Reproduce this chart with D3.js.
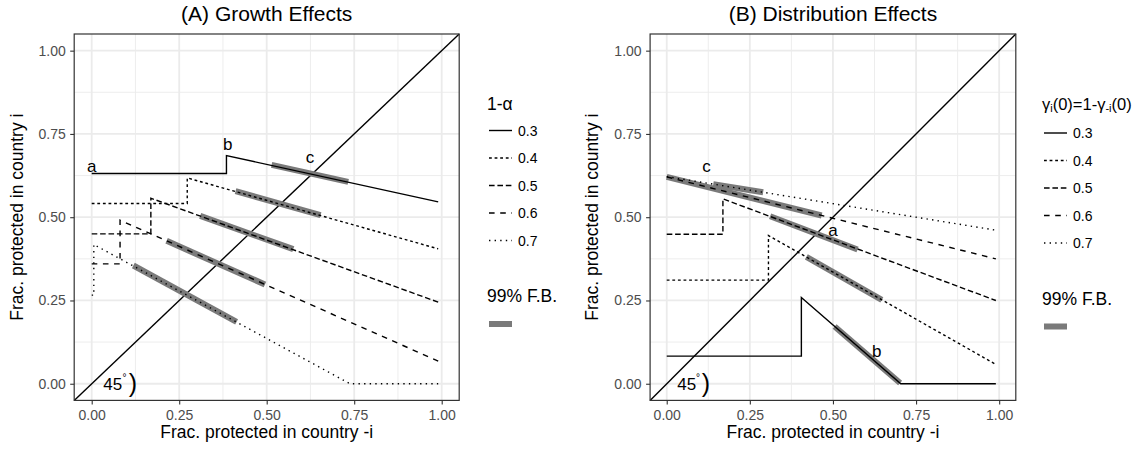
<!DOCTYPE html>
<html>
<head>
<meta charset="utf-8">
<script src="https://cdn.jsdelivr.net/npm/d3@7"></script>
<style>
body { margin: 0; background: #fff; }
text { font-family: "Liberation Sans", Arial, Helvetica, sans-serif; }
</style>
</head>
<body>
<div id="chart"></div>
<script>
// levels shared by both panels
var levels = ["0.3", "0.4", "0.5", "0.6", "0.7"];
var majorTicks = [0, 0.25, 0.5, 0.75, 1];
var minorTicks = [0.125, 0.375, 0.625, 0.875];

// (A) growth effects, one x/y list per level of 1-alpha
var growthX = [
	[0, 0.385, 0.385, 0.99],
	[0, 0.273, 0.273, 0.99],
	[0, 0.169, 0.169, 0.99],
	[0, 0.081, 0.081, 0.99],
	[0, 0.006, 0.006, 0.738, 0.99]
];
var growthY = [
	[0.631, 0.631, 0.685, 0.546],
	[0.541, 0.541, 0.618, 0.405],
	[0.45, 0.45, 0.557, 0.245],
	[0.36, 0.36, 0.491, 0.068],
	[0.266, 0.266, 0.418, 0, 0]
];
// 99% F.B. segments (start, end)
var growthBandX = [[0.514, 0.733], [0.411, 0.654], [0.31, 0.576], [0.214, 0.495], [0.119, 0.414]];
var growthBandY = [[0.657, 0.606], [0.578, 0.506], [0.504, 0.404], [0.429, 0.298], [0.355, 0.186]];
var growthLabels = ["a", "b", "c"];
var growthLabelX = [0, 0.389, 0.624];
var growthLabelY = [0.651, 0.717, 0.68];

// (B) distribution effects
var distX = [
	[0, 0.405, 0.405, 0.704, 0.99],
	[0, 0.306, 0.306, 0.99],
	[0, 0.169, 0.169, 0.99],
	[0, 0.99],
	[0, 0.99]
];
var distY = [
	[0.083, 0.083, 0.259, 0, 0],
	[0.311, 0.311, 0.445, 0.058],
	[0.449, 0.449, 0.555, 0.25],
	[0.621, 0.375],
	[0.622, 0.461]
];
var distBandX = [[0.505, 0.702], [0.42, 0.647], [0.311, 0.574], [0, 0.466], [0.14, 0.29]];
var distBandY = [[0.172, 0.002], [0.381, 0.252], [0.503, 0.403], [0.621, 0.505], [0.599, 0.575]];
var distLabels = ["c", "a", "b"];
var distLabelX = [0.12, 0.5, 0.632];
var distLabelY = [0.651, 0.461, 0.096];

var W = 1141, H = 449;
var u = 1.4; // dash unit
var dashes = ["none", [2*u, 2*u], [4*u, 2*u], [4*u, 4*u], [1*u, 3*u]];
var bandColor = "#7a7a7a";

var svg = d3.select("#chart").append("svg")
	.attr("width", W)
	.attr("height", H);

svg.append("rect").attr("width", W).attr("height", H).attr("fill", "white");

function panel(opt) {
	var x = d3.scaleLinear().domain([-0.05, 1.05]).range([opt.left, opt.right]);
	var y = d3.scaleLinear().domain([-0.05, 1.05]).range([400.4, 34]);
	var g = svg.append("g");

	// grid
	g.selectAll(".minx").data(minorTicks).enter().append("line")
		.attr("x1", function(d){ return x(d); }).attr("x2", function(d){ return x(d); })
		.attr("y1", y(-0.05)).attr("y2", y(1.05))
		.attr("stroke", "#ebebeb").attr("stroke-width", 0.9);
	g.selectAll(".miny").data(minorTicks).enter().append("line")
		.attr("y1", function(d){ return y(d); }).attr("y2", function(d){ return y(d); })
		.attr("x1", x(-0.05)).attr("x2", x(1.05))
		.attr("stroke", "#ebebeb").attr("stroke-width", 0.9);
	g.selectAll(".majx").data(majorTicks).enter().append("line")
		.attr("x1", function(d){ return x(d); }).attr("x2", function(d){ return x(d); })
		.attr("y1", y(-0.05)).attr("y2", y(1.05))
		.attr("stroke", "#ebebeb").attr("stroke-width", 1.8);
	g.selectAll(".majy").data(majorTicks).enter().append("line")
		.attr("y1", function(d){ return y(d); }).attr("y2", function(d){ return y(d); })
		.attr("x1", x(-0.05)).attr("x2", x(1.05))
		.attr("stroke", "#ebebeb").attr("stroke-width", 1.8);

	var line = d3.line().x(function(d){ return x(d[0]); }).y(function(d){ return y(d[1]); });

	// 45 degree line
	g.append("path").datum([[-0.05, -0.05], [1.05, 1.05]])
		.attr("d", line).attr("fill", "none").attr("stroke", "black").attr("stroke-width", 1.4);

	// bands
	opt.bandX.forEach(function(bx, i){
		g.append("path").datum([[bx[0], opt.bandY[i][0]], [bx[1], opt.bandY[i][1]]])
			.attr("d", line).attr("fill", "none")
			.attr("stroke", bandColor).attr("stroke-width", 6);
	});

	// curves
	opt.xs.forEach(function(xs, i){
		var pts = xs.map(function(v, j){ return [v, opt.ys[i][j]]; });
		g.append("path").datum(pts)
			.attr("d", line).attr("fill", "none")
			.attr("stroke", "black").attr("stroke-width", 1.4)
			.attr("stroke-dasharray", dashes[i] === "none" ? null : dashes[i].join(","));
	});

	// point labels
	opt.labels.forEach(function(t, i){
		g.append("text").attr("x", x(opt.labelX[i])).attr("y", y(opt.labelY[i]))
			.attr("text-anchor", "middle").attr("dominant-baseline", "central")
			.attr("font-size", 17).text(t);
	});

	// 45 degree marker
	g.append("text").attr("x", x(0.06)).attr("y", 390).attr("text-anchor", "middle")
		.attr("font-size", 17).text("45");
	g.append("text").attr("x", x(0.094)).attr("y", 381).attr("text-anchor", "middle")
		.attr("font-size", 10).text("\u00B0");
	g.append("text").attr("x", x(0.118)).attr("y", 392).attr("text-anchor", "middle")
		.attr("font-size", 25).text(")");

	// border
	g.append("rect").attr("x", x(-0.05)).attr("y", y(1.05))
		.attr("width", x(1.05) - x(-0.05)).attr("height", y(-0.05) - y(1.05))
		.attr("fill", "none").attr("stroke", "#333").attr("stroke-width", 1.2);

	// axes
	var fmt = d3.format(".2f");
	var ax = g.append("g").attr("transform", "translate(0," + y(-0.05) + ")")
		.call(d3.axisBottom(x).tickValues(majorTicks).tickFormat(fmt).tickSize(4).tickPadding(5.5));
	var ay = g.append("g").attr("transform", "translate(" + x(-0.05) + ",0)")
		.call(d3.axisLeft(y).tickValues(majorTicks).tickFormat(fmt).tickSize(4).tickPadding(4.5));
	[ax, ay].forEach(function(a){
		a.select(".domain").remove();
		a.selectAll("line").attr("stroke", "#333").attr("stroke-width", 1.1);
		a.selectAll("text").attr("fill", "#4d4d4d").attr("font-size", 14)
			.attr("font-family", "Liberation Sans, Arial, sans-serif");
	});

	// titles
	var cx = (x(-0.05) + x(1.05)) / 2;
	g.append("text").attr("x", cx).attr("y", 21).attr("text-anchor", "middle")
		.attr("font-size", 21).text(opt.title);
	g.append("text").attr("x", cx).attr("y", 438).attr("text-anchor", "middle")
		.attr("font-size", 17.5).text("Frac. protected in country -i");
	g.append("text").attr("transform", "translate(" + opt.ytitleX + "," + (y(-0.05) + y(1.05)) / 2 + ") rotate(-90)")
		.attr("text-anchor", "middle").attr("font-size", 17.5).text("Frac. protected in country i");

	// legend
	var lg = g.append("g");
	var t = lg.append("text").attr("x", opt.legX).attr("y", 104).attr("dominant-baseline", "central")
		.attr("font-size", 17.5);
	opt.legTitle(t);
	levels.forEach(function(lv, i){
		var ly = opt.legY0 + i * 27.5;
		lg.append("line").attr("x1", opt.legX + 2).attr("x2", opt.legX + 25)
			.attr("y1", ly).attr("y2", ly).attr("stroke", "black").attr("stroke-width", 1.4)
			.attr("stroke-dasharray", dashes[i] === "none" ? null : dashes[i].join(","));
		lg.append("text").attr("x", opt.legX + 31).attr("y", ly).attr("dominant-baseline", "central")
			.attr("font-size", 14).text(lv);
	});
	lg.append("text").attr("x", opt.legX).attr("y", opt.legY0 + 165.5).attr("dominant-baseline", "central")
		.attr("font-size", 17.5).text("99% F.B.");
	lg.append("rect").attr("x", opt.legX + 2).attr("y", opt.legY0 + 190.5)
		.attr("width", 23).attr("height", 6).attr("fill", bandColor);
}

panel({
	left: 74.2, right: 459.2, title: "(A) Growth Effects", ytitleX: 22.5,
	xs: growthX, ys: growthY, bandX: growthBandX, bandY: growthBandY,
	labels: growthLabels, labelX: growthLabelX, labelY: growthLabelY,
	legX: 487, legY0: 130.5,
	legTitle: function(t){ t.text("1-\u03B1"); }
});

panel({
	left: 650.1, right: 1015.8, title: "(B) Distribution Effects", ytitleX: 598,
	xs: distX, ys: distY, bandX: distBandX, bandY: distBandY,
	labels: distLabels, labelX: distLabelX, labelY: distLabelY,
	legX: 1042, legY0: 133,
	legTitle: function(t){
		t.attr("font-size", 16.5);
		t.append("tspan").text("\u03B3");
		t.append("tspan").attr("font-size", 11).attr("dy", 4).text("i");
		t.append("tspan").attr("dy", -4).text("(0)=1-\u03B3");
		t.append("tspan").attr("font-size", 11).attr("dy", 4).text("-i");
		t.append("tspan").attr("dy", -4).text("(0)");
	}
});
</script>
</body>
</html>
